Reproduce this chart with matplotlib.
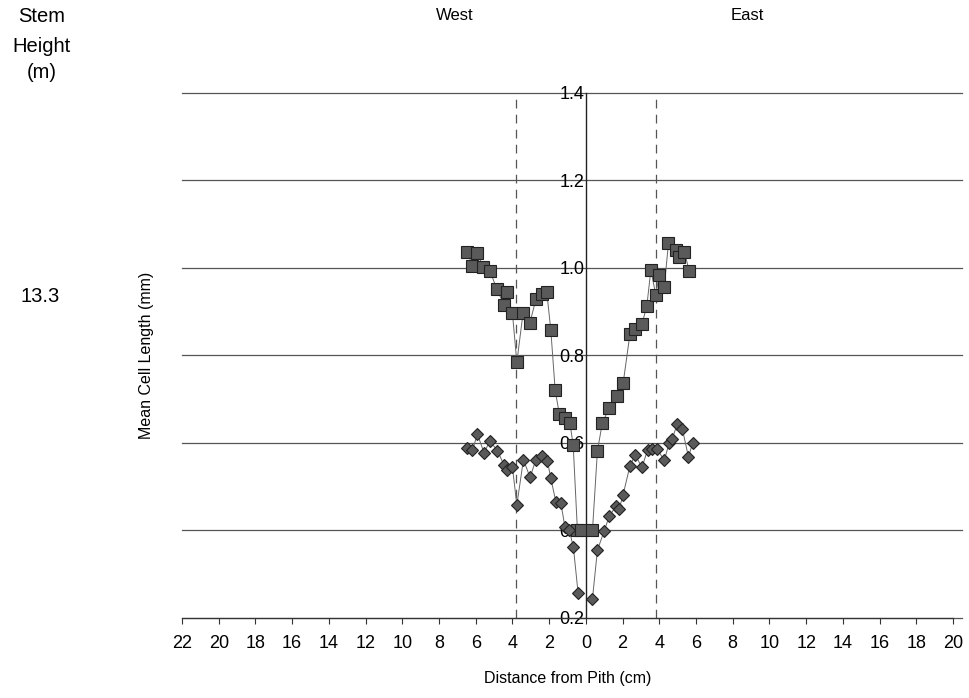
import matplotlib
matplotlib.use("Agg")
import matplotlib.pyplot as plt
import numpy as np

plt.rcParams['font.family'] = ['Liberation Sans', 'DejaVu Sans']

# ---- data ----
west_sq_x = [-6.45, -6.18, -5.91, -5.60, -5.22, -4.85, -4.45, -4.31, -4.00, -3.76, -3.42, -3.05,
             -2.72, -2.37, -2.13, -1.91, -1.67, -1.45, -1.13, -0.87, -0.69, -0.46, -0.27]
west_sq_y = [1.037, 1.004, 1.034, 1.001, 0.993, 0.951, 0.915, 0.944, 0.896, 0.784, 0.897, 0.874,
             0.928, 0.941, 0.945, 0.858, 0.720, 0.667, 0.656, 0.646, 0.595, 0.400, 0.400]
east_sq_x = [0.36, 0.63, 0.90, 1.27, 1.72, 2.03, 2.40, 2.69, 3.05, 3.32, 3.54, 3.81, 3.99,
             4.27, 4.50, 4.90, 5.05, 5.36, 5.63]
east_sq_y = [0.400, 0.582, 0.646, 0.679, 0.707, 0.736, 0.848, 0.861, 0.871, 0.912, 0.995, 0.938, 0.983,
             0.955, 1.056, 1.040, 1.025, 1.037, 0.993]

west_di_x = [-6.45, -6.18, -5.91, -5.54, -5.23, -4.82, -4.45, -4.27, -4.00, -3.76, -3.40, -3.04,
             -2.72, -2.40, -2.09, -1.91, -1.63, -1.36, -1.14, -0.90, -0.68, -0.42]
west_di_y = [0.589, 0.583, 0.620, 0.577, 0.605, 0.582, 0.549, 0.538, 0.545, 0.458, 0.562, 0.521,
             0.562, 0.570, 0.558, 0.519, 0.465, 0.462, 0.408, 0.400, 0.362, 0.256]
east_di_x = [0.36, 0.63, 1.00, 1.27, 1.63, 1.81, 2.03, 2.40, 2.69, 3.05, 3.36, 3.63, 3.90,
             4.27, 4.54, 4.69, 4.99, 5.26, 5.59, 5.81]
east_di_y = [0.244, 0.355, 0.399, 0.432, 0.455, 0.448, 0.482, 0.547, 0.573, 0.544, 0.583, 0.585, 0.585,
             0.560, 0.600, 0.608, 0.644, 0.631, 0.568, 0.599]

boundary_x = [-3.8, 3.8]
x_ticks = list(range(-22, 21, 2))
x_ticklabels = [str(abs(v)) for v in x_ticks]
y_ticks = [0.2, 0.4, 0.6, 0.8, 1.0, 1.2, 1.4]
y_ticklabels = ["0.2", "0.4", "0.6", "0.8", "1.0", "1.2", "1.4"]

# ---- figure ----
fig = plt.figure(figsize=(9.69, 6.98), dpi=100)
ax = fig.add_axes([182/969, 80/698, 771/969, 525.3/698])
ax.set_xlim(-22, 20)
ax.set_ylim(0.2, 1.4)

for yv in y_ticks:
    ax.plot([0, 1.012], [yv, yv], transform=ax.get_yaxis_transform(), clip_on=False,
            color='#555555', lw=0.9, zorder=1)
for bx in boundary_x:
    ax.axvline(bx, color='#555555', lw=0.9, ls=(0, (7, 5)), zorder=1)

line_kw = dict(color='#666666', lw=0.7, zorder=2)
sq_kw = dict(marker='s', ms=8, mfc='#5a5a5a', mec='#222222', mew=0.8, ls='none', zorder=3)
di_kw = dict(marker='D', ms=6.5, mfc='#5a5a5a', mec='#222222', mew=0.8, ls='none', zorder=3)

for xs, ys, kw in [(west_sq_x, west_sq_y, sq_kw), (east_sq_x, east_sq_y, sq_kw),
                   (west_di_x, west_di_y, di_kw), (east_di_x, east_di_y, di_kw)]:
    ax.plot(xs, ys, **line_kw)
    ax.plot(xs, ys, **kw)

for s in ['top', 'right']:
    ax.spines[s].set_visible(False)
ax.spines['left'].set_position(('data', 0))
ax.spines['left'].set_color('#222222')
ax.spines['left'].set_linewidth(1.0)
ax.spines['bottom'].set_color('#333333')
ax.spines['bottom'].set_linewidth(0.9)

ax.set_xticks(x_ticks)
ax.set_xticklabels(x_ticklabels, fontsize=13)
ax.tick_params(axis='x', length=4, width=0.8, pad=8, colors='#333333', labelcolor='black')
ax.set_yticks(y_ticks)
ax.set_yticklabels(y_ticklabels, fontsize=13)
ax.tick_params(axis='y', length=0, pad=1)

ax.set_xlabel("Distance from Pith (cm)", fontsize=11.5, labelpad=14)

fig.text(147/969, 1 - 355/698, "Mean Cell Length (mm)", rotation=90, ha='center', va='center', fontsize=11.5)
fig.text(42/969, 1 - 17/698, "Stem", ha='center', va='center', fontsize=14.5)
fig.text(42/969, 1 - 46/698, "Height", ha='center', va='center', fontsize=14.5)
fig.text(42/969, 1 - 73/698, "(m)", ha='center', va='center', fontsize=14.5)
fig.text(40/969, 1 - 297/698, "13.3", ha='center', va='center', fontsize=14.5)
fig.text(455/969, 1 - 16/698, "West", ha='center', va='center', fontsize=12)
fig.text(747/969, 1 - 16/698, "East", ha='center', va='center', fontsize=12)

fig.savefig("out.png", dpi=100)
